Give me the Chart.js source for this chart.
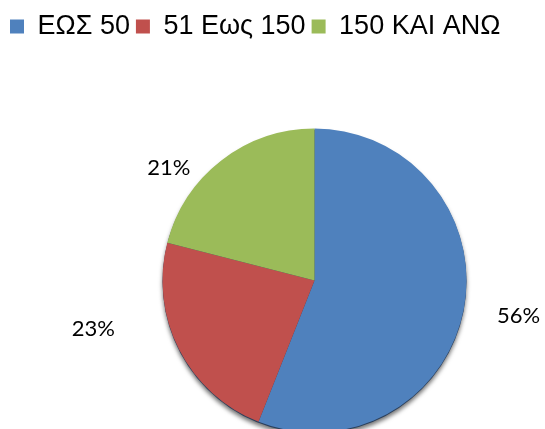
<!DOCTYPE html>
<html>
<head>
<meta charset="utf-8">
<script src="https://cdn.jsdelivr.net/npm/chart.js@4/dist/chart.umd.min.js"></script>
<style>
  html, body { margin: 0; padding: 0; background: #fff; overflow: hidden; }
  /* canvas is wider/taller than the window so the pie lands right of centre like the original */
  #wrap { width: 625px; height: 511px; position: relative; }
</style>
</head>
<body>
<div id="wrap"><canvas id="chart-pie"></canvas></div>
<script>
// data
var categories = ["ΕΩΣ 50", "51 Εως 150", "150 ΚΑΙ ΑΝΩ"];
var shares = [56, 23, 21];
var sliceColors = ["#4F81BD", "#C0504D", "#9BBB59"];

// soft shadow under the pie, drawn from the first arc's geometry
var pieShadow = {
  id: "pieShadow",
  beforeDatasetsDraw: function (chart) {
    var arc = chart.getDatasetMeta(0).data[0];
    if (!arc) return;
    var ctx = chart.ctx;
    ctx.save();
    ctx.shadowColor = "rgba(0,0,0,0.55)";
    ctx.shadowBlur = 4;
    ctx.shadowOffsetY = 3;
    ctx.fillStyle = "#2a3f5c";
    ctx.beginPath();
    ctx.arc(arc.x, arc.y + 1, arc.outerRadius, 0, Math.PI * 2);
    ctx.fill();
    ctx.restore();
  }
};

// percentage labels outside the slices; Excel "best fit" moves some of them, hence the nudges
var outsideLabels = {
  id: "outsideLabels",
  afterDatasetsDraw: function (chart, args, opts) {
    var ctx = chart.ctx;
    var meta = chart.getDatasetMeta(0);
    var total = shares.reduce(function (a, b) { return a + b; }, 0);
    ctx.save();
    ctx.font = opts.font;
    ctx.fillStyle = "#000";
    ctx.textAlign = "center";
    ctx.textBaseline = "middle";
    meta.data.forEach(function (arc, i) {
      var mid = (arc.startAngle + arc.endAngle) / 2;
      var dist = arc.outerRadius * opts.distance;
      var nudge = opts.nudge[i] || [0, 0];
      var x = arc.x + Math.cos(mid) * dist + nudge[0];
      var y = arc.y + Math.sin(mid) * dist + nudge[1];
      var pct = Math.round(shares[i] / total * 100) + "%";
      ctx.fillText(pct, x, y);
    });
    ctx.restore();
  }
};

var ctx = document.getElementById("chart-pie").getContext("2d");
var chartPie = new Chart(ctx, {
  type: "pie",
  data: {
    labels: categories,
    datasets: [
      {
        data: shares,
        backgroundColor: sliceColors,
        borderWidth: 0,
        radius: 152
      }
    ]
  },
  options: {
    responsive: true,
    maintainAspectRatio: false,
    animation: false,
    layout: {
      padding: { left: 4, top: 7 }
    },
    plugins: {
      legend: {
        position: "top",
        align: "start",
        labels: {
          boxWidth: 14,
          boxHeight: 14,
          padding: 6,
          color: "#000",
          font: { family: "'Liberation Sans', Arial, sans-serif", size: 27 }
        }
      },
      tooltip: { enabled: false },
      outsideLabels: {
        font: "22px Lato, 'Open Sans', sans-serif",
        distance: 1.36,
        nudge: [[1, -3], [-37, -45], [-19, 51]]
      }
    }
  },
  plugins: [pieShadow, outsideLabels]
});
</script>
</body>
</html>
